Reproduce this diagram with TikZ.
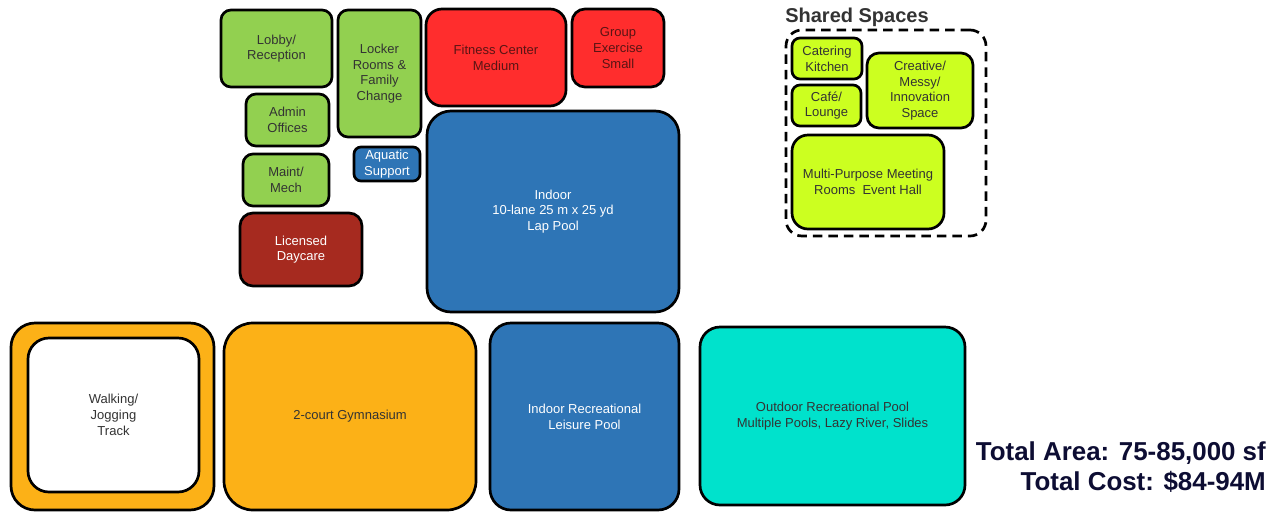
\documentclass[tikz,border=0pt]{standalone}
\usepackage{fontspec}
\setmainfont{Liberation Sans}
\usepackage{tikz}
\usetikzlibrary{fit}
\definecolor{grn}{RGB}{146,208,80}
\definecolor{lime}{RGB}{204,255,32}
\definecolor{fitred}{RGB}{255,45,45}
\definecolor{poolblue}{RGB}{46,117,182}
\definecolor{daycare}{RGB}{166,42,31}
\definecolor{gymorange}{RGB}{252,177,23}
\definecolor{outteal}{RGB}{0,226,204}
\definecolor{navy}{RGB}{13,13,51}
\definecolor{txtgray}{RGB}{51,51,51}
\definecolor{redtxt}{RGB}{90,20,20}

\begin{document}
\begin{tikzpicture}[x=1pt,y=-1pt,
  room/.style={draw=black,line width=2.7pt,inner sep=0pt,rounded corners=10pt,align=center,text=txtgray,font=\fontsize{13}{15.7}\selectfont},
  big/.style={rounded corners=24pt}]
\useasboundingbox (0,0) rectangle (1276,512);

% core building
\node (lobby)[room,fill=grn,minimum width=111pt,minimum height=77pt] at (276.5,48.5) {Lobby/\\Reception};
\node (locker)[room,fill=grn,minimum width=83pt,minimum height=127pt] at (379.5,73.5) {Locker\\Rooms \&\\Family\\Change};
\node (admin)[room,fill=grn,minimum width=83pt,minimum height=52pt] at (287.5,120) {Admin\\Offices};
\node (maint)[room,fill=grn,minimum width=86pt,minimum height=52pt] at (286,180) {Maint/\\Mech};
\node (daycare)[room,fill=daycare,text=white,rounded corners=13pt,minimum width=122pt,minimum height=73pt] at (301,249.5) {Licensed\\Daycare};
\node (aqsup)[room,fill=poolblue,text=white,rounded corners=7pt,minimum width=66pt,minimum height=34pt] at (387,164) {Aquatic\\Support};
\node (fitness)[room,fill=fitred,text=redtxt,rounded corners=16pt,minimum width=140pt,minimum height=97pt] at (496,57.5) {Fitness Center\\Medium};
\node (group)[room,fill=fitred,text=redtxt,rounded corners=13pt,minimum width=92pt,minimum height=78pt] at (618,48) {Group\\Exercise\\Small};
\node (lappool)[room,big,fill=poolblue,text=white,minimum width=252pt,minimum height=201pt] at (553,211.5) {Indoor\\10-lane 25 m x 25 yd\\Lap Pool};

% bottom row
\node (trackout)[room,big,fill=gymorange,minimum width=203pt,minimum height=187pt] at (112.5,416.5) {};
\node (track)[room,big,fill=white,rounded corners=21pt,minimum width=171pt,minimum height=154pt] at (113.5,415) {Walking/\\Jogging\\Track};
\node (gym)[room,big,fill=gymorange,rounded corners=29pt,minimum width=252pt,minimum height=187pt] at (350,416.5) {2-court Gymnasium};
\node (leisure)[room,big,fill=poolblue,text=white,rounded corners=21pt,minimum width=189pt,minimum height=187pt] at (584.5,416.5) {Indoor Recreational\\Leisure Pool};
\node (outdoor)[room,big,fill=outteal,rounded corners=20pt,minimum width=265pt,minimum height=178pt] at (832.5,416) {Outdoor Recreational Pool\\Multiple Pools, Lazy River, Slides};

% shared spaces
\node (cater)[room,fill=lime,rounded corners=8pt,minimum width=70pt,minimum height=41pt] at (827,58.5) {Catering\\Kitchen};
\node (cafe)[room,fill=lime,rounded corners=8pt,minimum width=69pt,minimum height=41pt] at (826.5,105.5) {Café/\\Lounge};
\node (creative)[room,fill=lime,rounded corners=12pt,minimum width=106pt,minimum height=75pt] at (920,90.5) {Creative/\\Messy/\\Innovation\\Space};
\node (multi)[room,fill=lime,rounded corners=16pt,minimum width=152pt,minimum height=94pt] at (868,182) {Multi-Purpose Meeting\\Rooms\ \ Event Hall};
\node (shared)[draw=black,line width=2.7pt,dash pattern=on 9.5pt off 6pt,rounded corners=16pt,inner sep=0pt,fit={(786,30) (986,236)}] {};
\node (sharedlbl)[anchor=base,text=txtgray,font=\fontsize{20}{24}\selectfont\bfseries] at (857,22.5) {Shared Spaces};

% totals
\node (area)[anchor=base east,inner sep=0pt,text=navy,font=\fontsize{25.9}{30}\selectfont\bfseries] at (1266,460) {Total Area: 75-85,000 sf};
\node (cost)[anchor=base east,inner sep=0pt,text=navy,font=\fontsize{25.9}{30}\selectfont\bfseries] at (1266,490) {Total Cost: \$84-94M};

\end{tikzpicture}
\end{document}
